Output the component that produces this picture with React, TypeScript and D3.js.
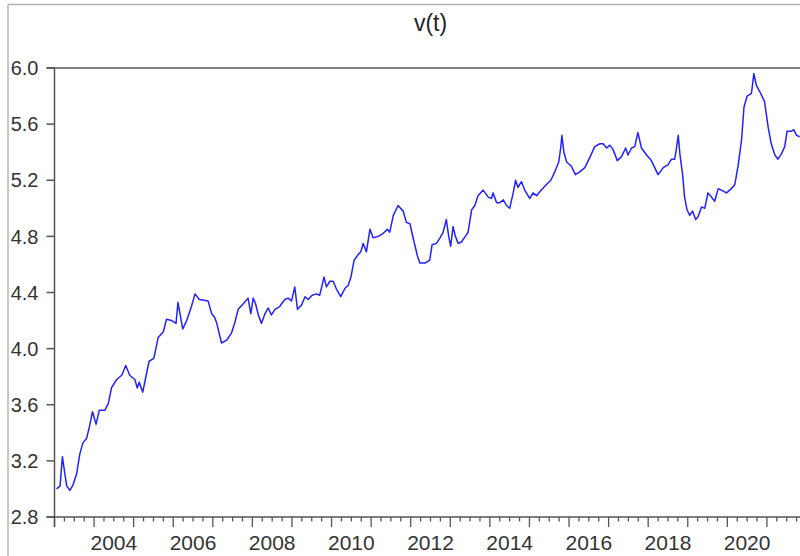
import React from "react";
import * as d3 from "d3";

const title = "v(t)";
const yTicks = [2.8, 3.2, 3.6, 4.0, 4.4, 4.8, 5.2, 5.6, 6.0];
const xLabels = [2004, 2006, 2008, 2010, 2012, 2014, 2016, 2018, 2020];

const dates = [
  2003.05, 2003.14, 2003.2, 2003.26, 2003.31, 2003.39, 2003.47, 2003.56, 2003.64, 2003.72,
  2003.81, 2003.88, 2003.96, 2004.05, 2004.13, 2004.27, 2004.36, 2004.44, 2004.57, 2004.7,
  2004.8, 2004.9, 2005.03, 2005.09, 2005.14, 2005.23, 2005.33, 2005.39, 2005.51, 2005.62,
  2005.75, 2005.83, 2005.96, 2006.07, 2006.12, 2006.17, 2006.24, 2006.34, 2006.46, 2006.55,
  2006.66, 2006.88, 2006.97, 2007.05, 2007.1, 2007.22, 2007.35, 2007.47, 2007.56, 2007.64,
  2007.77, 2007.89, 2007.96, 2008.02, 2008.08, 2008.15, 2008.23, 2008.32, 2008.4, 2008.48,
  2008.57, 2008.69, 2008.82, 2008.9, 2008.99, 2009.07, 2009.14, 2009.24, 2009.33, 2009.41,
  2009.51, 2009.62, 2009.7, 2009.81, 2009.87, 2009.96, 2010.04, 2010.13, 2010.23, 2010.34,
  2010.42, 2010.49, 2010.57, 2010.67, 2010.74, 2010.8, 2010.88, 2010.97, 2011.05, 2011.18,
  2011.3, 2011.41, 2011.47, 2011.56, 2011.68, 2011.81, 2011.89, 2011.98, 2012.06, 2012.17,
  2012.23, 2012.36, 2012.48, 2012.54, 2012.65, 2012.74, 2012.82, 2012.9, 2012.96, 2013.01,
  2013.07, 2013.13, 2013.2, 2013.28, 2013.38, 2013.45, 2013.54, 2013.62, 2013.7, 2013.83,
  2013.96, 2014.04, 2014.08, 2014.17, 2014.25, 2014.34, 2014.42, 2014.5, 2014.59, 2014.65,
  2014.71, 2014.8, 2014.88, 2015.01, 2015.09, 2015.18, 2015.3, 2015.43, 2015.54, 2015.64,
  2015.74, 2015.79, 2015.82, 2015.87, 2015.94, 2016.06, 2016.16, 2016.27, 2016.4, 2016.52,
  2016.65, 2016.78, 2016.86, 2016.95, 2017.03, 2017.11, 2017.22, 2017.33, 2017.43, 2017.49,
  2017.58, 2017.66, 2017.74, 2017.83, 2017.96, 2018.08, 2018.25, 2018.38, 2018.5, 2018.59,
  2018.67, 2018.71, 2018.76, 2018.8, 2018.87, 2018.92, 2018.98, 2019.05, 2019.12, 2019.2,
  2019.26, 2019.35, 2019.43, 2019.51, 2019.6, 2019.68, 2019.77, 2019.85, 2019.98, 2020.1,
  2020.19, 2020.27, 2020.36, 2020.42, 2020.5, 2020.61, 2020.67, 2020.73, 2020.84, 2020.94,
  2021.03, 2021.11, 2021.2, 2021.28, 2021.37, 2021.45, 2021.51, 2021.62, 2021.68, 2021.75,
  2021.83,
];

const values = [
  3.0, 3.02, 3.23, 3.11, 3.02, 2.99, 3.03, 3.11, 3.25, 3.33,
  3.36, 3.44, 3.55, 3.46, 3.56, 3.56, 3.61, 3.72, 3.78, 3.81,
  3.88, 3.81, 3.78, 3.72, 3.76, 3.69, 3.83, 3.91, 3.93, 4.08,
  4.12, 4.21, 4.2, 4.18, 4.33, 4.25, 4.14, 4.2, 4.3, 4.39,
  4.35, 4.34, 4.25, 4.22, 4.18, 4.04, 4.06, 4.11, 4.19, 4.28,
  4.32, 4.36, 4.25, 4.36, 4.32, 4.24, 4.18, 4.25, 4.29, 4.24,
  4.28, 4.3, 4.35, 4.36, 4.34, 4.44, 4.28, 4.31, 4.37, 4.35,
  4.38, 4.39, 4.38, 4.51, 4.44, 4.48, 4.48, 4.42, 4.37, 4.43,
  4.45, 4.51, 4.63, 4.67, 4.69, 4.75, 4.69, 4.85, 4.79, 4.8,
  4.82, 4.85, 4.83, 4.95, 5.02, 4.98, 4.9, 4.89, 4.79, 4.66,
  4.61, 4.61, 4.63, 4.74, 4.75, 4.79, 4.83, 4.92, 4.8, 4.73,
  4.87, 4.8, 4.75, 4.76, 4.8, 4.83, 4.99, 5.02, 5.09, 5.13,
  5.08, 5.07, 5.11, 5.04, 5.04, 5.06, 5.02, 5.0, 5.11, 5.2,
  5.15, 5.19, 5.13, 5.07, 5.11, 5.09, 5.13, 5.17, 5.2, 5.26,
  5.33, 5.43, 5.52, 5.4, 5.33, 5.3, 5.24, 5.26, 5.29, 5.36,
  5.44, 5.46, 5.46, 5.43, 5.45, 5.42, 5.34, 5.37, 5.43, 5.38,
  5.43, 5.44, 5.54, 5.43, 5.38, 5.34, 5.24, 5.29, 5.31, 5.35,
  5.35, 5.42, 5.52, 5.39, 5.24, 5.08, 4.99, 4.95, 4.98, 4.92,
  4.94, 5.01, 5.0, 5.11, 5.08, 5.05, 5.14, 5.13, 5.11, 5.14,
  5.17, 5.3, 5.49, 5.72, 5.8, 5.82, 5.96, 5.88, 5.82, 5.76,
  5.58, 5.46, 5.38, 5.35, 5.39, 5.44, 5.55, 5.55, 5.56, 5.52,
  5.51,
];

const W = 800;
const H = 556;
const FONT = "'Liberation Sans', Arial, sans-serif";

export default function App() {
  const x = d3.scaleLinear().domain([2003, 2022]).range([54.5, 806.5]);
  const y = d3.scaleLinear().domain([2.8, 6.0]).range([517, 68]);
  const pts: [number, number][] = dates.map((d, i) => [d, values[i]]);
  const line = d3
    .line<[number, number]>()
    .x((d) => x(d[0]))
    .y((d) => y(d[1]));
  const minor = d3.range(0, 19 * 4 + 1).map((i) => 2003 + i / 4);
  const [x0] = x.range();
  const yTop = y(6.0);
  const yBot = y(2.8);

  return (
    <svg
      width={W}
      height={H}
      style={{ position: "absolute", left: 0, top: 0, display: "block", background: "#fff" }}
    >
      <line x1={8} y1={4.5} x2={W} y2={4.5} stroke="#b4b4b4" strokeWidth={1.5} />
      <line x1={8} y1={4.5} x2={8} y2={H} stroke="#b4b4b4" strokeWidth={1.5} />
      <text x={(x0 + x(2022)) / 2} y={31} textAnchor="middle" fontFamily={FONT} fontSize={23} fill="#222">
        {title}
      </text>
      <line x1={x0 - 8} y1={yTop} x2={W} y2={yTop} stroke="#555" strokeWidth={1.5} />
      <line x1={x0} y1={yTop} x2={x0} y2={yBot + 10} stroke="#555" strokeWidth={1.5} />
      <line x1={x0 - 8} y1={yBot} x2={W} y2={yBot} stroke="#555" strokeWidth={1.5} />
      {yTicks.map((t) => (
        <g key={t}>
          <line x1={x0 - 8} x2={x0} y1={y(t)} y2={y(t)} stroke="#555" strokeWidth={1.5} />
          <text
            x={38.5}
            y={y(t)}
            dy="0.36em"
            textAnchor="end"
            fontFamily={FONT}
            fontSize={20}
            fill="#333"
          >
            {t.toFixed(1)}
          </text>
        </g>
      ))}
      {minor.map((t, i) => (
        <line
          key={i}
          x1={x(t)}
          x2={x(t)}
          y1={yBot}
          y2={yBot + (i % 4 === 0 ? 10 : 4.5)}
          stroke="#555"
          strokeWidth={1.3}
        />
      ))}
      {xLabels.map((yr) => (
        <text
          key={yr}
          x={x(yr + 0.5)}
          y={550}
          textAnchor="middle"
          fontFamily={FONT}
          fontSize={21}
          fill="#333"
        >
          {yr}
        </text>
      ))}
      <path d={line(pts) || ""} fill="none" stroke="#2222ff" strokeWidth={1.5} strokeLinejoin="round" />
    </svg>
  );
}
